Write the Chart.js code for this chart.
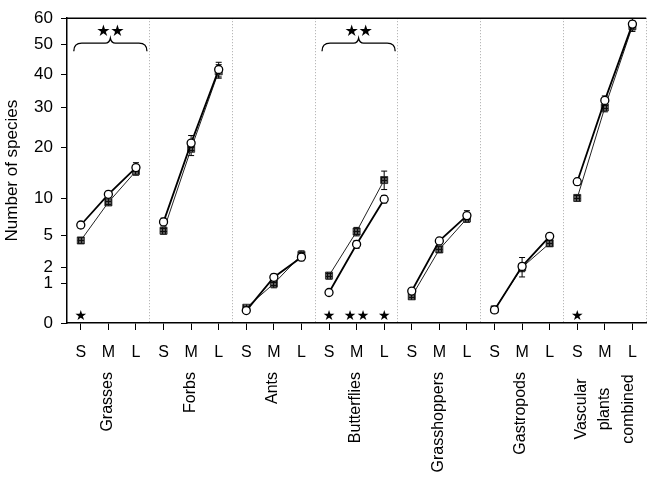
<!DOCTYPE html>
<html>
<head>
<meta charset="utf-8">
<script src="https://cdn.jsdelivr.net/npm/chart.js@4.4.1/dist/chart.umd.min.js"></script>
<style>
  html, body { margin: 0; padding: 0; background: #fff; }
  #chart { display: block; }
</style>
</head>
<body>
<canvas id="chart" width="652" height="481"></canvas>
<script>
// species per plot size, square-root y axis

// 1. The data
const groups = ['Grasses', 'Forbs', 'Ants', 'Butterflies', 'Grasshoppers', 'Gastropods', ['Vascular', 'plants', 'combined']];
const sizes = ['S', 'M', 'L'];
const yTicks = [0, 1, 2, 5, 10, 20, 30, 40, 50, 60];

// open circles (S, M, L for each group)
const openValues = [6.2, 10.7, 15.6, 6.6, 20.9, 41.5, 0.1, 1.35, 2.8, 0.6, 4.0, 9.9, 0.66, 4.35, 7.45, 0.11, 2.07, 4.85, 12.9, 32.0, 57.7];
const openErrors = [0.4, 0.5, 1.0, 0.5, 1.8, 2.4, 0.03, 0.2, 0.3, 0.1, 0.4, 0.6, 0.1, 0.3, 0.7, 0.03, 0.7, 0.3, 0.6, 1.3, 2.2];
// filled squares
const filledValues = [4.4, 9.4, 14.9, 5.5, 19.6, 40.9, 0.15, 1.0, 3.0, 1.45, 5.4, 13.2, 0.46, 3.5, 7.05, 0.12, 2.0, 4.1, 10.1, 30.0, 56.9];
const filledErrors = [0.3, 0.5, 0.8, 0.4, 1.5, 2.2, 0.04, 0.2, 0.36, 0.2, 0.5, 1.7, 0.1, 0.3, 0.5, 0.04, 0.3, 0.3, 0.5, 1.2, 2.0];

// stars under single points: [point index, how many]
const pointStars = [[0, 1], [9, 1], [10, 2], [11, 1], [18, 1]];
// groups with a '**' brace on top
const bracedGroups = [0, 3];

// 2. Helpers
const labels = groups.flatMap(() => sizes);
const sq = v => Math.sqrt(v);

// hatched fill for the squares
const hatch = document.createElement('canvas');
hatch.width = 3; hatch.height = 3;
const hctx = hatch.getContext('2d');
hctx.fillStyle = '#5a5a5a';
hctx.fillRect(0, 0, 3, 3);
hctx.fillStyle = '#0e0e0e';
hctx.fillRect(0, 0, 3, 1);
hctx.fillRect(0, 0, 1, 3);
const hatchFill = document.createElement('canvas').getContext('2d').createPattern(hatch, 'repeat');

// no line between the last point of a group and the next group
const groupBreak = (color) => ({
  borderColor: ctx => (ctx.p0DataIndex % 3 === 2 ? 'rgba(0,0,0,0)' : color),
});

// 3. Extra drawing: error bars, stars, braces, group names
const extras = {
  id: 'extras',
  beforeDatasetsDraw(chart) {
    const { ctx } = chart;
    const y = chart.scales.y;
    const sets = [[openValues, openErrors], [filledValues, filledErrors]];
    ctx.save();
    ctx.strokeStyle = '#000';
    ctx.lineWidth = 1;
    sets.forEach(([vals, errs], di) => {
      const meta = chart.getDatasetMeta(di);
      vals.forEach((v, i) => {
        const px = meta.data[i].x;
        const top = y.getPixelForValue(sq(v + errs[i]));
        const bot = y.getPixelForValue(sq(Math.max(v - errs[i], 0)));
        ctx.beginPath();
        ctx.moveTo(px, top); ctx.lineTo(px, bot);
        ctx.moveTo(px - 3, top); ctx.lineTo(px + 3, top);
        ctx.moveTo(px - 3, bot); ctx.lineTo(px + 3, bot);
        ctx.stroke();
      });
    });
    ctx.restore();
  },
  afterDraw(chart) {
    const { ctx, chartArea } = chart;
    const x = chart.scales.x;
    ctx.save();

    // top frame line
    ctx.strokeStyle = '#000';
    ctx.lineWidth = 1.5;
    ctx.beginPath();
    ctx.moveTo(chartArea.left, chartArea.top);
    ctx.lineTo(chartArea.right, chartArea.top);
    ctx.stroke();

    // stars at the bottom
    ctx.fillStyle = '#000';
    ctx.font = '14px "DejaVu Sans"';
    ctx.textAlign = 'center';
    ctx.textBaseline = 'middle';
    pointStars.forEach(([i, n]) => {
      const px = x.getPixelForValue(i);
      for (let k = 0; k < n; k++) {
        ctx.fillText('\u2605', px + (k - (n - 1) / 2) * 13, chartArea.bottom - 7);
      }
    });

    // braces with '**'
    bracedGroups.forEach(g => {
      const x0 = x.getPixelForValue(g * 3) - 7;
      const x1 = x.getPixelForValue(g * 3 + 2) + 11;
      const mid = (x0 + x1) / 2;
      const yt = chartArea.top + 25;
      const yb = yt + 8;
      ctx.lineWidth = 1.3;
      ctx.beginPath();
      ctx.moveTo(x0, yb);
      ctx.quadraticCurveTo(x0, yt, x0 + 8, yt);
      ctx.lineTo(mid - 5, yt);
      ctx.quadraticCurveTo(mid - 1, yt, mid, yt - 5);
      ctx.quadraticCurveTo(mid + 1, yt, mid + 5, yt);
      ctx.lineTo(x1 - 8, yt);
      ctx.quadraticCurveTo(x1, yt, x1, yb);
      ctx.stroke();
      ctx.font = '16px "DejaVu Sans"';
      ctx.fillText('\u2605', mid - 7, chartArea.top + 14);
      ctx.fillText('\u2605', mid + 7, chartArea.top + 14);
    });

    // group names, rotated
    ctx.font = '16px "Liberation Sans", Arial, sans-serif';
    ctx.textBaseline = 'middle';
    const top = x.bottom + 9;
    groups.forEach((name, g) => {
      const px = x.getPixelForValue(g * 3 + 1);
      if (Array.isArray(name)) {
        name.forEach((line, k) => {
          ctx.save();
          ctx.translate(px + (k - (name.length - 1) / 2) * 23.5, top + 37);
          ctx.rotate(-Math.PI / 2);
          ctx.textAlign = 'center';
          ctx.fillText(line, 0, 0);
          ctx.restore();
        });
      } else {
        ctx.save();
        ctx.translate(px - 1, top);
        ctx.rotate(-Math.PI / 2);
        ctx.textAlign = 'right';
        ctx.fillText(name, 0, 0);
        ctx.restore();
      }
    });
    ctx.restore();
  },
};

// 4. The chart
Chart.defaults.font.family = '"Liberation Sans", Arial, sans-serif';
Chart.defaults.font.size = 16;
Chart.defaults.color = '#000';

const config = {
  type: 'line',
  data: {
    labels: labels,
    datasets: [
      {
        label: 'open',
        data: openValues.map(sq),
        borderColor: '#000',
        borderWidth: 1.8,
        pointStyle: 'circle',
        pointRadius: 4,
        pointBorderWidth: 1.3,
        pointBackgroundColor: '#fff',
        pointBorderColor: '#000',
        segment: groupBreak('#000'),
        clip: false,
      },
      {
        label: 'filled',
        data: filledValues.map(sq),
        borderColor: '#222',
        borderWidth: 1,
        pointStyle: 'rect',
        pointRadius: 5,
        pointBorderWidth: 0.8,
        pointBackgroundColor: hatchFill,
        pointBorderColor: '#222',
        segment: groupBreak('#222'),
        clip: false,
      },
    ],
  },
  options: {
    responsive: false,
    animation: false,
    layout: { padding: { top: 14, right: -2, bottom: 0, left: 0 } },
    plugins: { legend: { display: false }, tooltip: { enabled: false } },
    scales: {
      x: {
        type: 'category',
        offset: true,
        grid: { offset: false, drawOnChartArea: false, drawTicks: true, tickLength: 7, color: '#000' },
        border: { color: '#000', width: 1.5 },
        ticks: { autoSkip: false, maxRotation: 0, padding: 13 },
        afterFit: s => { s.height = 40; },
      },
      grp: {
        type: 'category',
        position: 'bottom',
        labels: groups.map((g, i) => 'g' + i),
        offset: true,
        weight: 1,
        grid: {
          offset: true,
          drawTicks: false,
          drawOnChartArea: true,
          lineWidth: 1,
          color: c => (c.index === 0 || c.index >= groups.length ? 'rgba(0,0,0,0)' : '#a8a8a8'),
        },
        border: { display: false, dash: [1, 2] },
        ticks: { display: false },
        afterFit: s => { s.height = 118; },
      },
      y: {
        min: 0,
        max: sq(60),
        grid: { drawOnChartArea: false, drawTicks: true, tickLength: 6, color: '#000' },
        border: { color: '#000', width: 1.5 },
        ticks: { autoSkip: false, padding: 8, font: { size: 17 }, callback: v => Math.round(v * v) },
        afterBuildTicks: s => { s.ticks = yTicks.map(v => ({ value: sq(v) })); },
        title: { display: true, text: 'Number of species', font: { size: 17 }, padding: { top: 2, bottom: 0 } },
        afterFit: s => { s.width = 67; },
      },
    },
  },
  plugins: [extras],
};

const speciesChart = new Chart(document.getElementById('chart').getContext('2d'), config);
</script>
</body>
</html>
